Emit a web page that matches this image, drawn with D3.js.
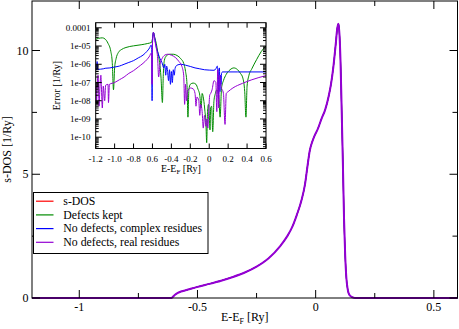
<!DOCTYPE html>
<html><head><meta charset="utf-8">
<script src="https://cdn.jsdelivr.net/npm/d3@7"></script>
<style>body{margin:0;background:#fff;} text{font-family:"Liberation Serif","DejaVu Serif",serif;}</style>
</head><body><svg id="c" width="459" height="329" font-family="Liberation Serif" style="display:block"></svg>
<script>
// ---------- data ----------
const mainEnergy = [-1.2,-0.61,-0.605,-0.595,-0.585,-0.57,-0.55,-0.5,-0.45,-0.4,-0.35,-0.3,-0.25,-0.2,-0.15,-0.12,-0.1,-0.08,-0.06,-0.045,-0.035,-0.025,-0.015,-0.005,0.01,0.025,0.04,0.055,0.065,0.075,0.085,0.091,0.096,0.101,0.105,0.11,0.115,0.12,0.125,0.13,0.135,0.14,0.15,0.16,0.17,0.6];
const sDOS = [0,0,0.04,0.13,0.2,0.26,0.31,0.45,0.57,0.7,0.85,1.03,1.27,1.6,2.1,2.5,2.85,3.35,3.95,4.6,5.3,5.95,6.3,6.55,6.85,7.25,7.6,8.15,8.65,9.35,10.27,10.87,11.08,10.6,9.6,7.6,5.5,3.2,1.7,0.8,0.38,0.18,0.06,0.015,0,0];

const mainXTicks = [-1,-0.5,0,0.5];
const mainXLabels = ["-1","-0.5","0","0.5"];
const mainXMinor = [-0.75,-0.25,0.25];
const mainYTicks = [0,5,10];
const mainYLabels = ["0","5","10"];
const mainYMinor = [2.5,7.5];

const insetXTicks = [-1.2,-1.0,-0.8,-0.6,-0.4,-0.2,0,0.2,0.4,0.6];
const insetXLabels = ["-1.2","-1.0","-0.8","0.6","-0.4","-0.2","0","0.2","0.4","0.6"];
const insetYTicks = [1e-10,1e-9,1e-8,1e-7,1e-6,1e-5,1e-4];
const insetYLabels = ["1e-10","1e-09","1e-08","1e-07","1e-06","1e-05","0.0001"];

const seriesNames = ["s-DOS","Defects kept","No defects, complex residues","No defects, real residues"];
const seriesColors = ["#ff0000","#008b00","#0000ff","#9400d3"];

// inset: energies and log10(error)
const greenE = [-1.2,-1.17,-1.13,-1.1,-1.07,-1.04,-1.025,-1.012,-1.0,-0.985,-0.96,-0.93,-0.88,-0.8,-0.72,-0.65,-0.61,-0.6,-0.59,-0.575,-0.56,-0.545,-0.525,-0.51,-0.495,-0.485,-0.475,-0.455,-0.42,-0.38,-0.34,-0.3,-0.27,-0.25,-0.235,-0.225,-0.215,-0.2,-0.17,-0.14,-0.12,-0.1,-0.085,-0.075,-0.06,-0.045,-0.035,-0.027,-0.018,-0.008,0.0,0.008,0.015,0.025,0.037,0.05,0.065,0.08,0.1,0.115,0.13,0.15,0.18,0.22,0.26,0.3,0.33,0.355,0.375,0.388,0.4,0.42,0.45,0.5,0.55,0.6];
const greenLogErr = [-4.63,-4.58,-4.55,-4.62,-4.85,-5.3,-5.9,-7.4,-6.2,-5.7,-5.35,-5.2,-5.08,-4.99,-4.93,-4.86,-4.8,-4.6,-4.25,-4.55,-4.85,-5.3,-5.9,-6.7,-8.1,-6.5,-5.8,-5.55,-5.45,-5.45,-5.52,-5.7,-5.95,-6.4,-7.1,-8.9,-7.4,-7.1,-7.03,-7.1,-7.35,-7.7,-8.4,-7.6,-7.9,-8.6,-9.2,-10.3,-8.6,-8.2,-8.7,-9.6,-8.4,-8.3,-9.7,-8.0,-7.6,-7.4,-7.7,-8.9,-7.3,-6.9,-6.55,-6.3,-6.2,-6.3,-6.5,-6.75,-7.5,-8.9,-7.2,-6.6,-6.25,-5.75,-5.3,-5.0];

const blueE = [-1.2,-1.19,-1.185,-1.18,-1.15,-1.12,-1.1,-1.05,-1.0,-0.95,-0.9,-0.85,-0.8,-0.75,-0.7,-0.66,-0.63,-0.615,-0.608,-0.604,-0.6,-0.59,-0.575,-0.56,-0.54,-0.52,-0.5,-0.48,-0.47,-0.46,-0.45,-0.44,-0.43,-0.42,-0.41,-0.4,-0.39,-0.38,-0.37,-0.36,-0.34,-0.3,-0.25,-0.2,-0.15,-0.1,-0.05,0.0,0.05,0.07,0.085,0.092,0.097,0.102,0.108,0.113,0.118,0.125,0.13,0.14,0.2,0.3,0.4,0.6];
const blueLogErr = [-6.25,-6.3,-5.85,-6.28,-6.27,-6.25,-6.22,-6.2,-6.15,-6.1,-6.0,-5.9,-5.8,-5.65,-5.5,-5.3,-5.1,-4.95,-5.05,-8.0,-4.8,-4.25,-4.6,-5.05,-5.4,-5.7,-5.9,-6.2,-6.0,-6.6,-6.1,-6.4,-6.9,-6.3,-7.1,-6.4,-7.0,-6.3,-6.6,-6.2,-6.05,-6.0,-6.05,-6.12,-6.2,-6.25,-6.3,-6.32,-6.33,-6.25,-6.1,-6.6,-7.9,-6.3,-6.2,-7.5,-6.6,-7.1,-6.5,-6.42,-6.42,-6.42,-6.42,-6.42];

const violetE = [-1.2,-1.195,-1.19,-1.185,-1.175,-1.17,-1.165,-1.155,-1.145,-1.14,-1.13,-1.12,-1.105,-1.095,-1.07,-1.065,-1.055,-1.0,-0.95,-0.9,-0.85,-0.8,-0.75,-0.7,-0.66,-0.63,-0.615,-0.608,-0.604,-0.6,-0.59,-0.575,-0.56,-0.545,-0.535,-0.52,-0.5,-0.47,-0.44,-0.4,-0.36,-0.32,-0.29,-0.27,-0.26,-0.25,-0.24,-0.23,-0.2,-0.17,-0.15,-0.14,-0.13,-0.11,-0.1,-0.09,-0.075,-0.063,-0.05,-0.035,-0.025,-0.015,-0.005,0.005,0.015,0.03,0.05,0.07,0.08,0.09,0.1,0.11,0.125,0.15,0.167,0.18,0.2,0.25,0.35,0.45,0.6];
const violetLogErr = [-7.35,-7.2,-8.0,-7.3,-6.6,-7.25,-8.3,-7.2,-6.6,-7.2,-8.4,-7.2,-8.0,-7.15,-7.1,-8.1,-7.1,-7.0,-6.85,-6.7,-6.5,-6.35,-6.15,-5.95,-5.75,-5.55,-5.4,-5.6,-7.1,-4.9,-4.25,-4.7,-5.1,-5.7,-6.7,-6.0,-5.7,-5.5,-5.45,-5.5,-5.62,-5.85,-6.1,-6.6,-8.2,-7.1,-8.0,-7.5,-7.3,-7.35,-7.6,-8.3,-7.8,-8.0,-8.8,-8.2,-8.6,-9.5,-8.8,-9.4,-9.0,-9.5,-8.6,-7.7,-7.6,-7.4,-6.9,-7.0,-8.6,-6.3,-8.4,-6.6,-7.2,-7.6,-9.3,-7.6,-7.5,-7.3,-7.05,-6.85,-6.62];

// ---------- layout ----------
const svg = d3.select("#c");
const M = {l:32, r:457.5, t:1, b:298};
const I = {l:95.7, r:266, t:22.7, b:148.5};

const x = d3.scaleLinear().domain([-1.2,0.6]).range([M.l,M.r]);
const y = d3.scaleLinear().domain([0,12]).range([M.b,M.t]);

// main lines (all four curves coincide; violet drawn last on top)
const mainData = mainEnergy.map((e,i)=>[e,sDOS[i]]);
const mline = d3.line().x(d=>x(d[0])).y(d=>y(d[1])).curve(d3.curveMonotoneX);
seriesColors.forEach((c,i)=>{
  svg.append("path").attr("d",mline(mainData)).attr("fill","none")
    .attr("stroke",c).attr("stroke-width",i===3?2:1).attr("stroke-linejoin","round");
});

// main frame
svg.append("rect").attr("x",M.l).attr("y",M.t).attr("width",M.r-M.l).attr("height",M.b-M.t)
  .attr("fill","none").attr("stroke","#000").attr("stroke-width",1);

const tk = svg.append("g").attr("stroke","#000").attr("stroke-width",1);
mainXTicks.forEach(v=>{
  tk.append("line").attr("x1",x(v)).attr("x2",x(v)).attr("y1",M.b).attr("y2",M.b-8);
  tk.append("line").attr("x1",x(v)).attr("x2",x(v)).attr("y1",M.t).attr("y2",M.t+8);
});
mainXMinor.forEach(v=>{
  tk.append("line").attr("x1",x(v)).attr("x2",x(v)).attr("y1",M.b).attr("y2",M.b-5);
  tk.append("line").attr("x1",x(v)).attr("x2",x(v)).attr("y1",M.t).attr("y2",M.t+5);
});
mainYTicks.forEach(v=>{
  tk.append("line").attr("x1",M.l).attr("x2",M.l+8).attr("y1",y(v)).attr("y2",y(v));
  tk.append("line").attr("x1",M.r).attr("x2",M.r-8).attr("y1",y(v)).attr("y2",y(v));
});
mainYMinor.forEach(v=>{
  tk.append("line").attr("x1",M.l).attr("x2",M.l+5).attr("y1",y(v)).attr("y2",y(v));
  tk.append("line").attr("x1",M.r).attr("x2",M.r-5).attr("y1",y(v)).attr("y2",y(v));
});
mainXTicks.forEach((v,i)=>{
  svg.append("text").attr("x",x(v)).attr("y",310.5).attr("text-anchor","middle")
    .attr("font-size",12).text(mainXLabels[i]);
});
mainYTicks.forEach((v,i)=>{
  svg.append("text").attr("x",28.5).attr("y",y(v)+4).attr("text-anchor","end")
    .attr("font-size",12).text(mainYLabels[i]);
});
// axis titles
const xt = svg.append("text").attr("x",(M.l+M.r)/2).attr("y",321).attr("text-anchor","middle").attr("font-size",12);
xt.append("tspan").text("E-E");
xt.append("tspan").attr("font-size",8).attr("dy",3).text("F");
xt.append("tspan").attr("dy",-3).text(" [Ry]");
svg.append("text").attr("transform",`translate(10.5,${(M.t+M.b)/2}) rotate(-90)`)
  .attr("text-anchor","middle").attr("font-size",12).text("s-DOS [1/Ry]");

// legend
const L = {x:33.5, y:192.5, w:174.5, h:61};
svg.append("rect").attr("x",L.x).attr("y",L.y).attr("width",L.w).attr("height",L.h)
  .attr("fill","#fff").attr("stroke","#000").attr("stroke-width",1);
const rowY = [201.2,214.9,228.6,242.3];
seriesNames.forEach((n,i)=>{
  svg.append("line").attr("x1",36).attr("x2",53.5).attr("y1",rowY[i]).attr("y2",rowY[i])
    .attr("stroke",seriesColors[i]).attr("stroke-width",1.2);
  svg.append("text").attr("x",63.3).attr("y",rowY[i]+3.8).attr("font-size",11.8).text(n);
});

// ---------- inset ----------
const ix = d3.scaleLinear().domain([-1.2,0.6]).range([I.l,I.r]);
const iy = d3.scaleLog().domain([Math.pow(10,-10.62),Math.pow(10,-3.72)]).range([I.b,I.t]);
svg.append("rect").attr("x",I.l).attr("y",I.t).attr("width",I.r-I.l).attr("height",I.b-I.t).attr("fill","#fff");
svg.append("clipPath").attr("id","ic").append("rect").attr("x",I.l).attr("y",I.t).attr("width",I.r-I.l).attr("height",I.b-I.t);
const ig = svg.append("g").attr("clip-path","url(#ic)");
const iline = d3.line().x(d=>ix(d[0])).y(d=>iy(Math.pow(10,d[1]))).curve(d3.curveMonotoneX);
[[greenE,greenLogErr,1],[blueE,blueLogErr,2],[violetE,violetLogErr,3]].forEach(([E,V,ci])=>{
  ig.append("path").attr("d",iline(E.map((e,i)=>[e,V[i]]))).attr("fill","none")
    .attr("stroke",seriesColors[ci]).attr("stroke-width",1);
});
svg.append("rect").attr("x",I.l).attr("y",I.t).attr("width",I.r-I.l).attr("height",I.b-I.t)
  .attr("fill","none").attr("stroke","#000").attr("stroke-width",1);
const itk = svg.append("g").attr("stroke","#000").attr("stroke-width",1);
insetXTicks.forEach(v=>{
  itk.append("line").attr("x1",ix(v)).attr("x2",ix(v)).attr("y1",I.b).attr("y2",I.b-5);
  itk.append("line").attr("x1",ix(v)).attr("x2",ix(v)).attr("y1",I.t).attr("y2",I.t+5);
});
const [lo,hi] = iy.domain();
for (let d=-11; d<=-4; d++){
  for (let m=1; m<=9; m++){
    const v = m*Math.pow(10,d);
    if (v<lo || v>hi) continue;
    const len = m===1?6:3;
    itk.append("line").attr("x1",I.l).attr("x2",I.l+len).attr("y1",iy(v)).attr("y2",iy(v));
    itk.append("line").attr("x1",I.r).attr("x2",I.r-len).attr("y1",iy(v)).attr("y2",iy(v));
  }
}
insetXTicks.forEach((v,i)=>{
  svg.append("text").attr("x",ix(v)).attr("y",161.5).attr("text-anchor","middle")
    .attr("font-size",9).text(insetXLabels[i]);
});
insetYTicks.forEach((v,i)=>{
  svg.append("text").attr("x",90.5).attr("y",iy(v)+3).attr("text-anchor","end")
    .attr("font-size",9).text(insetYLabels[i]);
});
const ixt = svg.append("text").attr("x",(I.l+I.r)/2).attr("y",171.5).attr("text-anchor","middle").attr("font-size",10);
ixt.append("tspan").text("E-E");
ixt.append("tspan").attr("font-size",7).attr("dy",2.5).text("F");
ixt.append("tspan").attr("dy",-2.5).text(" [Ry]");
svg.append("text").attr("transform",`translate(60,${(I.t+I.b)/2}) rotate(-90)`)
  .attr("text-anchor","middle").attr("font-size",10).text("Error [1/Ry]");
</script></body></html>
